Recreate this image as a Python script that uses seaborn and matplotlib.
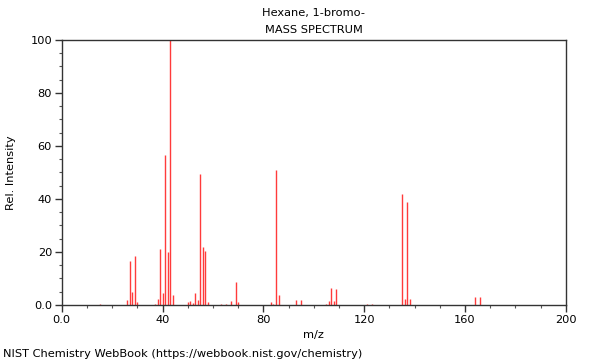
import numpy as np
import pandas as pd
import matplotlib
matplotlib.use('Agg')
import matplotlib.pyplot as plt
import seaborn as sns
from matplotlib.ticker import MultipleLocator

sns.set_style('ticks')
plt.rcParams['font.family'] = ['DejaVu Sans']
plt.rcParams['text.color'] = 'black'
plt.rcParams['axes.labelcolor'] = 'black'
plt.rcParams['xtick.labelcolor'] = 'black'
plt.rcParams['ytick.labelcolor'] = 'black'

# peaks
mz = [15, 26, 27, 28, 29, 30, 37, 38, 39, 40, 41, 42, 43, 44,
      50, 51, 52, 53, 54, 55, 56, 57, 58, 63, 65, 67, 69, 70,
      83, 84, 85, 86, 93, 95, 105, 106, 107, 108, 109, 121, 123,
      135, 136, 137, 138, 164, 166]
intensity = [0.5, 2.0, 16.5, 5.0, 18.3, 1.0, 0.5, 2.3, 21.0, 4.4, 56.5, 20.0, 100, 3.8,
             1.0, 1.6, 0.8, 4.4, 2.0, 49.5, 22.0, 20.2, 1.0, 0.3, 0.4, 1.5, 8.5, 1.0,
             1.0, 0.5, 51.0, 3.8, 1.9, 2.0, 0.4, 1.5, 6.5, 1.5, 6.0, 0.5, 0.4,
             42.0, 2.3, 38.8, 2.3, 3.0, 3.0]

x_ticks = [0, 40, 80, 120, 160, 200]
x_labels = ['0.0', '40', '80', '120', '160', '200']
y_ticks = [0, 20, 40, 60, 80, 100]
y_labels = ['0.0', '20', '40', '60', '80', '100']

df = pd.DataFrame({'mz': mz, 'intensity': intensity})

fs = 8.2
fig = plt.figure(figsize=(6, 3.6), dpi=100)
ax = fig.add_axes([0.103, 0.153, 0.84, 0.736])
ax.vlines(df['mz'], 0, df['intensity'], color='#ff3b3b', linewidth=1)

ax.set_xlim(0, 200)
ax.set_ylim(0, 100)
ax.set_xticks(x_ticks)
ax.set_xticklabels(x_labels)
ax.set_yticks(y_ticks)
ax.set_yticklabels(y_labels)
ax.xaxis.set_minor_locator(MultipleLocator(10))
ax.yaxis.set_minor_locator(MultipleLocator(5))
ax.tick_params(which='major', length=5, width=1, color='#333333', labelsize=fs, pad=2)
ax.tick_params(which='minor', length=2.5, width=0.8, color='#555555')
for s in ax.spines.values():
    s.set_color('#333333')
    s.set_linewidth(1)

ax.set_xlabel('m/z', fontsize=fs, labelpad=4)
ax.set_ylabel('Rel. Intensity', fontsize=fs, labelpad=10)
fig.text(0.523, 0.963, 'Hexane, 1-bromo-', ha='center', va='center', fontsize=fs)
fig.text(0.523, 0.916, 'MASS SPECTRUM', ha='center', va='center', fontsize=fs)
fig.text(0.005, 0.018, 'NIST Chemistry WebBook (https://webbook.nist.gov/chemistry)',
         ha='left', va='center', fontsize=fs)

fig.savefig('out.png', dpi=100)
